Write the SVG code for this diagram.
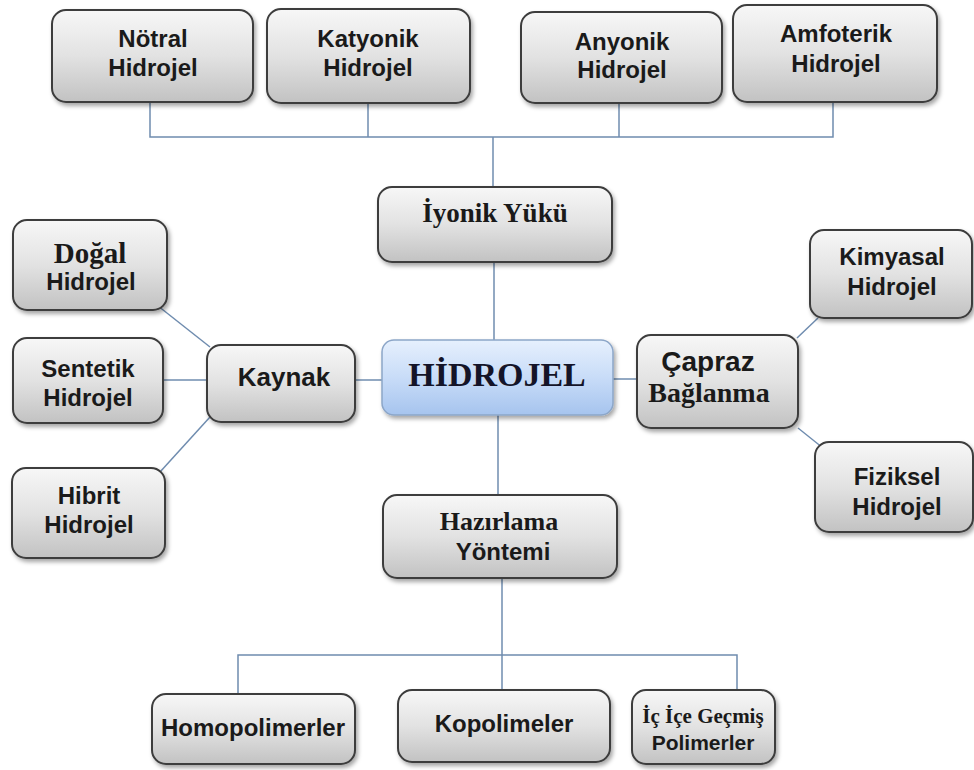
<svg xmlns="http://www.w3.org/2000/svg" width="974" height="770" viewBox="0 0 974 770">
<defs>
<linearGradient id="gGray" x1="0" y1="0" x2="0" y2="1">
<stop offset="0" stop-color="#f7f7f7"/>
<stop offset="0.5" stop-color="#e2e2e2"/>
<stop offset="1" stop-color="#c2c2c2"/>
</linearGradient>
<linearGradient id="gBlue" x1="0" y1="0" x2="0" y2="1">
<stop offset="0" stop-color="#e6f0fd"/>
<stop offset="0.5" stop-color="#c8dcf8"/>
<stop offset="1" stop-color="#a6c4ee"/>
</linearGradient>
<filter id="sh" x="-10%" y="-10%" width="125%" height="135%">
<feDropShadow dx="2" dy="3" stdDeviation="2" flood-color="#000" flood-opacity="0.35"/>
</filter>
</defs>
<style>
.box{fill:url(#gGray);stroke:#3c3c3c;stroke-width:2;filter:url(#sh)}
.cbox{fill:url(#gBlue);stroke:#8ca6c8;stroke-width:1.5;filter:url(#sh)}
.s{font-family:"Liberation Sans",Arial,sans-serif;font-weight:bold;font-size:24px;fill:#1a1a1a;text-anchor:middle}
.r{font-family:"Liberation Serif","Times New Roman",serif;font-weight:bold;font-size:26px;fill:#1a1a1a;text-anchor:middle}
.ln{stroke:#6f8caf;stroke-width:1.5;fill:none}
</style>
<g id="connectors">
<polyline class="ln" points="150,102 150,137 833,137 833,102"/>
<line class="ln" x1="368" y1="103" x2="368" y2="137"/>
<line class="ln" x1="619" y1="103" x2="619" y2="137"/>
<line class="ln" x1="493" y1="137" x2="493" y2="187"/>
<line class="ln" x1="494" y1="262" x2="494" y2="340"/>
<line class="ln" x1="355" y1="380" x2="382" y2="380"/>
<line class="ln" x1="153" y1="302" x2="210" y2="347"/>
<line class="ln" x1="163" y1="380" x2="207" y2="380"/>
<line class="ln" x1="160" y1="472" x2="210" y2="417"/>
<line class="ln" x1="613" y1="379" x2="637" y2="379"/>
<line class="ln" x1="797" y1="338" x2="818" y2="318"/>
<line class="ln" x1="798" y1="428" x2="823" y2="448"/>
<line class="ln" x1="498" y1="415" x2="498" y2="495"/>
<line class="ln" x1="502" y1="578" x2="502" y2="690"/>
<polyline class="ln" points="238,694 238,655 737,655 737,690"/>
</g>
<g id="n_notral"><rect class="box" x="52" y="10" width="201" height="92" rx="14"/><text class="s" x="153" y="47">Nötral</text><text class="s" x="153" y="76">Hidrojel</text></g>
<g id="n_katyonik"><rect class="box" x="267" y="9" width="203" height="94" rx="14"/><text class="s" x="368" y="47">Katyonik</text><text class="s" x="368" y="76">Hidrojel</text></g>
<g id="n_anyonik"><rect class="box" x="521" y="12" width="201" height="91" rx="14"/><text class="s" x="622" y="50">Anyonik</text><text class="s" x="622" y="78">Hidrojel</text></g>
<g id="n_amfoterik"><rect class="box" x="733" y="5" width="204" height="97" rx="14"/><text class="s" x="836" y="42">Amfoterik</text><text class="s" x="836" y="72">Hidrojel</text></g>
<g id="n_iyonik"><rect class="box" x="378" y="187" width="234" height="75" rx="14"/><text class="r" x="495" y="222" style="font-size:27px">İyonik Yükü</text></g>
<g id="n_hidrojel"><rect class="cbox" x="382" y="340" width="231" height="75" rx="12"/><text class="r" x="497" y="386" style="font-size:34px;fill:#141428">HİDROJEL</text></g>
<g id="n_kaynak"><rect class="box" x="207" y="345" width="148" height="77" rx="14"/><text class="s" x="284" y="386" style="font-size:26px">Kaynak</text></g>
<g id="n_dogal"><rect class="box" x="13" y="220" width="154" height="90" rx="14"/><text class="r" x="90" y="263" style="font-size:29px">Doğal</text><text class="s" x="91" y="290">Hidrojel</text></g>
<g id="n_sentetik"><rect class="box" x="13" y="338" width="150" height="85" rx="14"/><text class="s" x="88" y="377">Sentetik</text><text class="s" x="88" y="406">Hidrojel</text></g>
<g id="n_hibrit"><rect class="box" x="12" y="468" width="153" height="90" rx="14"/><text class="s" x="89" y="504">Hibrit</text><text class="s" x="89" y="533">Hidrojel</text></g>
<g id="n_capraz"><rect class="box" x="637" y="335" width="161" height="93" rx="14"/><text class="s" x="708" y="371" style="font-size:28px">Çapraz</text><text class="r" x="709" y="402" style="font-size:28px">Bağlanma</text></g>
<g id="n_kimyasal"><rect class="box" x="810" y="230" width="162" height="88" rx="14"/><text class="s" x="892" y="265">Kimyasal</text><text class="s" x="892" y="295">Hidrojel</text></g>
<g id="n_fiziksel"><rect class="box" x="815" y="442" width="158" height="90" rx="14"/><text class="s" x="897" y="485">Fiziksel</text><text class="s" x="897" y="515">Hidrojel</text></g>
<g id="n_hazirlama"><rect class="box" x="383" y="495" width="234" height="83" rx="14"/><text class="r" x="499" y="530">Hazırlama</text><text class="s" x="503" y="560">Yöntemi</text></g>
<g id="n_homo"><rect class="box" x="152" y="694" width="203" height="70" rx="14"/><text class="s" x="253" y="736">Homopolimerler</text></g>
<g id="n_kopo"><rect class="box" x="398" y="690" width="212" height="72" rx="14"/><text class="s" x="504" y="732">Kopolimeler</text></g>
<g id="n_icice"><rect class="box" x="632" y="690" width="143" height="74" rx="14"/><text class="r" x="703" y="723" style="font-size:21px">İç İçe Geçmiş</text><text class="s" x="703" y="750" style="font-size:21px">Polimerler</text></g>
</svg>
